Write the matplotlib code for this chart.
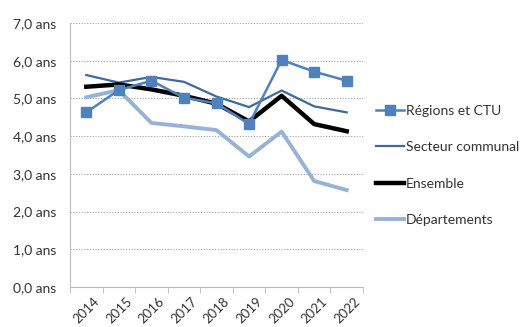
import numpy as np
import matplotlib.pyplot as plt
from matplotlib.ticker import FixedLocator, FuncFormatter
from matplotlib.transforms import ScaledTranslation

plt.rcParams['font.family'] = ['Lato', 'DejaVu Sans']

annees = ['2014', '2015', '2016', '2017', '2018', '2019', '2020', '2021', '2022']

regions = [4.63, 5.22, 5.47, 5.02, 4.87, 4.32, 6.02, 5.71, 5.47]
secteur = [5.62, 5.42, 5.57, 5.44, 5.05, 4.77, 5.21, 4.79, 4.63]
ensemble = [5.31, 5.37, 5.24, 5.07, 4.86, 4.39, 5.07, 4.32, 4.13]
departements = [5.03, 5.22, 4.35, 4.26, 4.16, 3.46, 4.12, 2.81, 2.57]

fig = plt.figure(figsize=(5.24, 3.27), dpi=100)
ax = fig.add_axes([70/524, 1-287/327, 293/524, 264/327])

x = np.arange(len(annees))
ax.plot(x, regions, color='#4F81BD', lw=1.8, marker='s', ms=7.5, label='Régions et CTU', zorder=5)
ax.plot(x, secteur, color='#3C6A9C', lw=1.6, label='Secteur communal', zorder=4)
ax.plot(x, ensemble, color='black', lw=3.2, label='Ensemble', zorder=4)
ax.plot(x, departements, color='#95B3D7', lw=2.8, label='Départements', zorder=3)

ax.set_xlim(-0.5, 8.5)
ax.set_ylim(0, 7)
ax.set_yticks(np.arange(0, 8, 1))
ax.yaxis.set_major_formatter(FuncFormatter(lambda v, p: ('%.1f ans' % v).replace('.', ',')))
ax.set_xticks(x)
ax.set_xticklabels(annees, rotation=45, ha='right', rotation_mode='anchor')
ax.xaxis.set_minor_locator(FixedLocator(np.arange(-0.5, 9, 1)))
ax.tick_params(axis='x', which='major', length=0, pad=6, labelsize=9.5, colors='#333333')
ax.tick_params(axis='x', which='minor', length=4, color='#BBBBBB', direction='out')
ax.tick_params(axis='y', length=0, pad=10, labelsize=10, colors='#333333')
shift = ScaledTranslation(7/100, 0, fig.dpi_scale_trans)
for lab in ax.get_xticklabels():
    lab.set_transform(lab.get_transform() + shift)

ax.grid(axis='y', color='#A0A0A0', ls=(0, (1, 1.5)), lw=0.8)
ax.set_axisbelow(True)
for s in ['top', 'right']:
    ax.spines[s].set_visible(False)
ax.spines['left'].set_color('#BBBBBB')
ax.spines['bottom'].set_color('#BBBBBB')

fig.legend(loc='upper left', bbox_to_anchor=(376/524, 1-105/327), frameon=False,
           fontsize=10, handlelength=2.0, handletextpad=0.15, labelspacing=1.75,
           borderpad=0, borderaxespad=0, labelcolor='#333333')

fig.savefig('out.png', dpi=100)
